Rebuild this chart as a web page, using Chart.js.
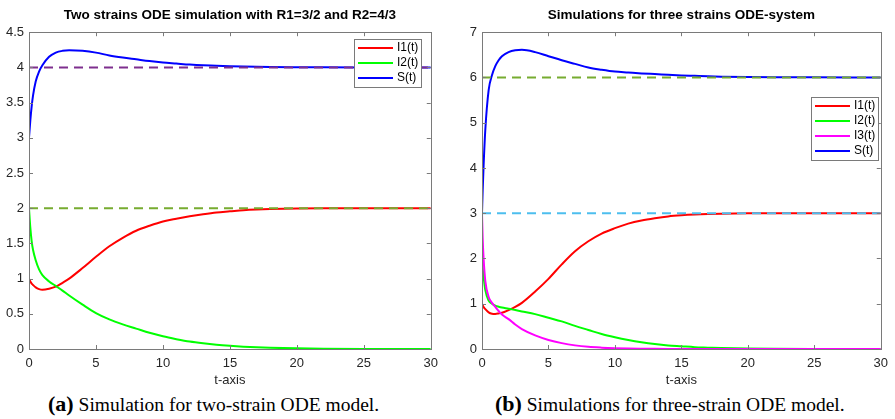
<!DOCTYPE html>
<html>
<head>
<meta charset="utf-8">
<script src="https://cdn.jsdelivr.net/npm/chart.js@4.4.0/dist/chart.umd.min.js"></script>
<style>
  html, body { margin: 0; padding: 0; background: #fff; }
  #wrap { position: relative; width: 895px; height: 419px; overflow: hidden; }
  canvas { position: absolute; top: 0; }
  #chartA { left: 0; }
  #chartB { left: 445px; }
  .cap { position: absolute; top: 393px; font-family: "Liberation Serif", "DejaVu Serif", serif; font-size: 19.5px; line-height: 22px; color: #000; white-space: nowrap; }
  .cap b { font-size: 22px; line-height: 22px; }
  #capA { left: 48px; }
  #capB { left: 495px; }
</style>
</head>
<body>
<div id="wrap">
  <canvas id="chartA" width="445" height="390"></canvas>
  <canvas id="chartB" width="450" height="390"></canvas>
  <div class="cap" id="capA"><b>(a)</b> Simulation for two-strain ODE model.</div>
  <div class="cap" id="capB"><b>(b)</b> Simulations for three-strain ODE model.</div>
</div>
<script>
"use strict";

// (a) two strains, R1=3/2, R2=4/3
const tA = [0, 0.1, 0.2, 0.3, 0.5, 0.75, 1, 1.5, 2, 2.5, 3, 4, 5, 6, 7, 8, 9, 10, 11, 12, 13, 14, 15, 16, 17, 18, 20, 22, 25, 30];
const i1A = [1.0, 0.96, 0.93, 0.91, 0.875, 0.85, 0.84, 0.855, 0.885, 0.94, 1.0, 1.15, 1.31, 1.46, 1.58, 1.68, 1.75, 1.81, 1.85, 1.885, 1.915, 1.94, 1.955, 1.97, 1.98, 1.987, 1.995, 1.999, 2.0, 2.0];
const i2A = [2.0, 1.72, 1.53, 1.41, 1.26, 1.13, 1.05, 0.96, 0.895, 0.83, 0.76, 0.63, 0.51, 0.42, 0.35, 0.29, 0.23, 0.18, 0.14, 0.105, 0.08, 0.06, 0.045, 0.033, 0.024, 0.017, 0.009, 0.004, 0.001, 0];
const sA = [3.0, 3.25, 3.45, 3.6, 3.8, 3.94, 4.03, 4.15, 4.21, 4.235, 4.243, 4.235, 4.21, 4.17, 4.14, 4.115, 4.09, 4.07, 4.055, 4.04, 4.03, 4.025, 4.018, 4.013, 4.009, 4.006, 4.003, 4.001, 4.0, 4.0];
const levelsA = [4, 2];

// (b) three strains
const tB = [0, 0.05, 0.12, 0.25, 0.5, 0.75, 1, 1.25, 1.5, 2, 2.5, 3, 4, 5, 6, 7, 8, 9, 10, 11, 12, 13, 14, 15, 16, 17, 18, 20, 22, 25, 30];
const i1B = [1.0, 0.97, 0.93, 0.88, 0.81, 0.78, 0.775, 0.785, 0.8, 0.86, 0.93, 1.02, 1.27, 1.55, 1.87, 2.16, 2.38, 2.55, 2.67, 2.77, 2.84, 2.89, 2.93, 2.955, 2.972, 2.983, 2.99, 2.997, 3.0, 3.0, 3.0];
const i2B = [2.0, 1.8, 1.6, 1.3, 1.07, 1.0, 0.96, 0.935, 0.915, 0.89, 0.86, 0.83, 0.77, 0.69, 0.61, 0.51, 0.42, 0.33, 0.26, 0.2, 0.15, 0.11, 0.08, 0.06, 0.04, 0.03, 0.02, 0.01, 0.005, 0.002, 0];
const i3B = [3.0, 2.45, 2.0, 1.5, 1.15, 1.02, 0.93, 0.84, 0.76, 0.66, 0.54, 0.44, 0.3, 0.2, 0.13, 0.08, 0.048, 0.03, 0.018, 0.011, 0.007, 0.004, 0.002, 0.001, 0, 0, 0, 0, 0, 0, 0];
const sB = [3.0, 3.5, 4.05, 4.85, 5.72, 6.05, 6.25, 6.38, 6.47, 6.56, 6.6, 6.61, 6.56, 6.47, 6.38, 6.3, 6.22, 6.17, 6.13, 6.11, 6.09, 6.075, 6.06, 6.045, 6.035, 6.025, 6.018, 6.01, 6.005, 6.002, 6.0];
const levelsB = [6, 3];

const tMax = 30;

Chart.defaults.font.family = "'Liberation Sans', Arial, sans-serif";
Chart.defaults.color = "#262626";

function pts(t, v) {
  return t.map((x, i) => ({ x: x, y: v[i] }));
}

function solid(label, color, t, v, order) {
  return {
    label: label,
    data: pts(t, v),
    borderColor: color,
    backgroundColor: color,
    borderWidth: 2,
    pointRadius: 0,
    cubicInterpolationMode: "monotone",
    order: order,
  };
}

function dashed(color, level) {
  return {
    label: "",
    data: [{ x: 0, y: level }, { x: tMax, y: level }],
    borderColor: color,
    borderWidth: 2,
    borderDash: [9, 6],
    pointRadius: 0,
    order: 0,
    refLine: true,
  };
}

// matlab style box with inward ticks + legend box
const boxPlugin = {
  id: "matlabBox",
  afterDatasetsDraw(chart) {
    const { ctx, chartArea: a, scales } = chart;
    ctx.save();
    ctx.strokeStyle = "#7a7a7a";
    ctx.lineWidth = 1;
    ctx.strokeRect(Math.round(a.left) + 0.5, Math.round(a.top) + 0.5, Math.round(a.right - a.left), Math.round(a.bottom - a.top));
    ctx.beginPath();
    for (const tk of scales.x.ticks) {
      const px = Math.round(scales.x.getPixelForValue(tk.value)) + 0.5;
      ctx.moveTo(px, a.bottom); ctx.lineTo(px, a.bottom - 4);
      ctx.moveTo(px, a.top); ctx.lineTo(px, a.top + 4);
    }
    for (const tk of scales.y.ticks) {
      const py = Math.round(scales.y.getPixelForValue(tk.value)) + 0.5;
      ctx.moveTo(a.left, py); ctx.lineTo(a.left + 4, py);
      ctx.moveTo(a.right, py); ctx.lineTo(a.right - 4, py);
    }
    ctx.stroke();
    ctx.restore();
  },
  afterDraw(chart, args, opts) {
    const { ctx, chartArea: a } = chart;
    const items = chart.data.datasets.filter((d) => !d.refLine);
    const w = 67, rowH = 15;
    const h = items.length * rowH + 3;
    const left = Math.round(a.right - opts.right - w);
    const top = Math.round(a.top + opts.top);
    ctx.save();
    ctx.fillStyle = "#fff";
    ctx.fillRect(left, top, w, h);
    ctx.strokeStyle = "#7a7a7a";
    ctx.lineWidth = 1;
    ctx.strokeRect(left + 0.5, top + 0.5, w, h);
    ctx.font = "12px 'Liberation Sans', Arial, sans-serif";
    ctx.textBaseline = "middle";
    items.forEach((d, i) => {
      const y = top + 9 + i * rowH;
      ctx.strokeStyle = d.borderColor;
      ctx.lineWidth = 2;
      ctx.beginPath();
      ctx.moveTo(left + 4, y);
      ctx.lineTo(left + 39, y);
      ctx.stroke();
      ctx.fillStyle = "#000";
      ctx.fillText(d.label, left + 43, y);
    });
    ctx.restore();
  },
};

function makeChart(id, title, datasets, yMax, yStep, yWidth, padRight, legendPos) {
  const ctx = document.getElementById(id).getContext("2d");
  return new Chart(ctx, {
    type: "line",
    data: { datasets: datasets },
    options: {
      responsive: false,
      animation: false,
      devicePixelRatio: 1,
      layout: { padding: { left: 0, right: padRight, top: 0, bottom: 0 } },
      plugins: {
        legend: { display: false },
        tooltip: { enabled: false },
        title: {
          display: true,
          text: title,
          fullSize: false,
          color: "#000",
          font: { size: 13.5, weight: "bold" },
          padding: { top: 7, bottom: 9 },
        },
        matlabBox: legendPos,
      },
      scales: {
        x: {
          type: "linear",
          min: 0,
          max: tMax,
          grid: { display: false, drawTicks: false },
          border: { display: false },
          ticks: { stepSize: 5, padding: 7, font: { size: 13 }, maxRotation: 0 },
          title: { display: true, text: "t-axis", color: "#262626", font: { size: 13 }, padding: { top: 0, bottom: 2 } },
          afterFit(scale) { scale.height = 41; },
        },
        y: {
          min: 0,
          max: yMax,
          grid: { display: false, drawTicks: false },
          border: { display: false },
          ticks: { stepSize: yStep, padding: 5, font: { size: 13 }, callback: (v) => String(v) },
          afterFit(scale) { scale.width = yWidth; },
        },
      },
    },
    plugins: [boxPlugin],
  });
}

const chartA = makeChart("chartA", "Two strains ODE simulation with R1=3/2 and R2=4/3", [
  dashed("#7E2F8E", levelsA[0]),
  dashed("#77AC30", levelsA[1]),
  solid("I1(t)", "#ff0000", tA, i1A, 3),
  solid("I2(t)", "#00ff00", tA, i2A, 2),
  solid("S(t)", "#0000ff", tA, sA, 1),
], 4.5, 0.5, 29, 13, { right: 10, top: 7 });

const chartB = makeChart("chartB", "Simulations for three strains ODE-system", [
  dashed("#77AC30", levelsB[0]),
  dashed("#4DBEEE", levelsB[1]),
  solid("I1(t)", "#ff0000", tB, i1B, 4),
  solid("I2(t)", "#00ff00", tB, i2B, 3),
  solid("I3(t)", "#ff00ff", tB, i3B, 2),
  solid("S(t)", "#0000ff", tB, sB, 1),
], 7, 1, 37, 10, { right: 3, top: 65 });
</script>
</body>
</html>
